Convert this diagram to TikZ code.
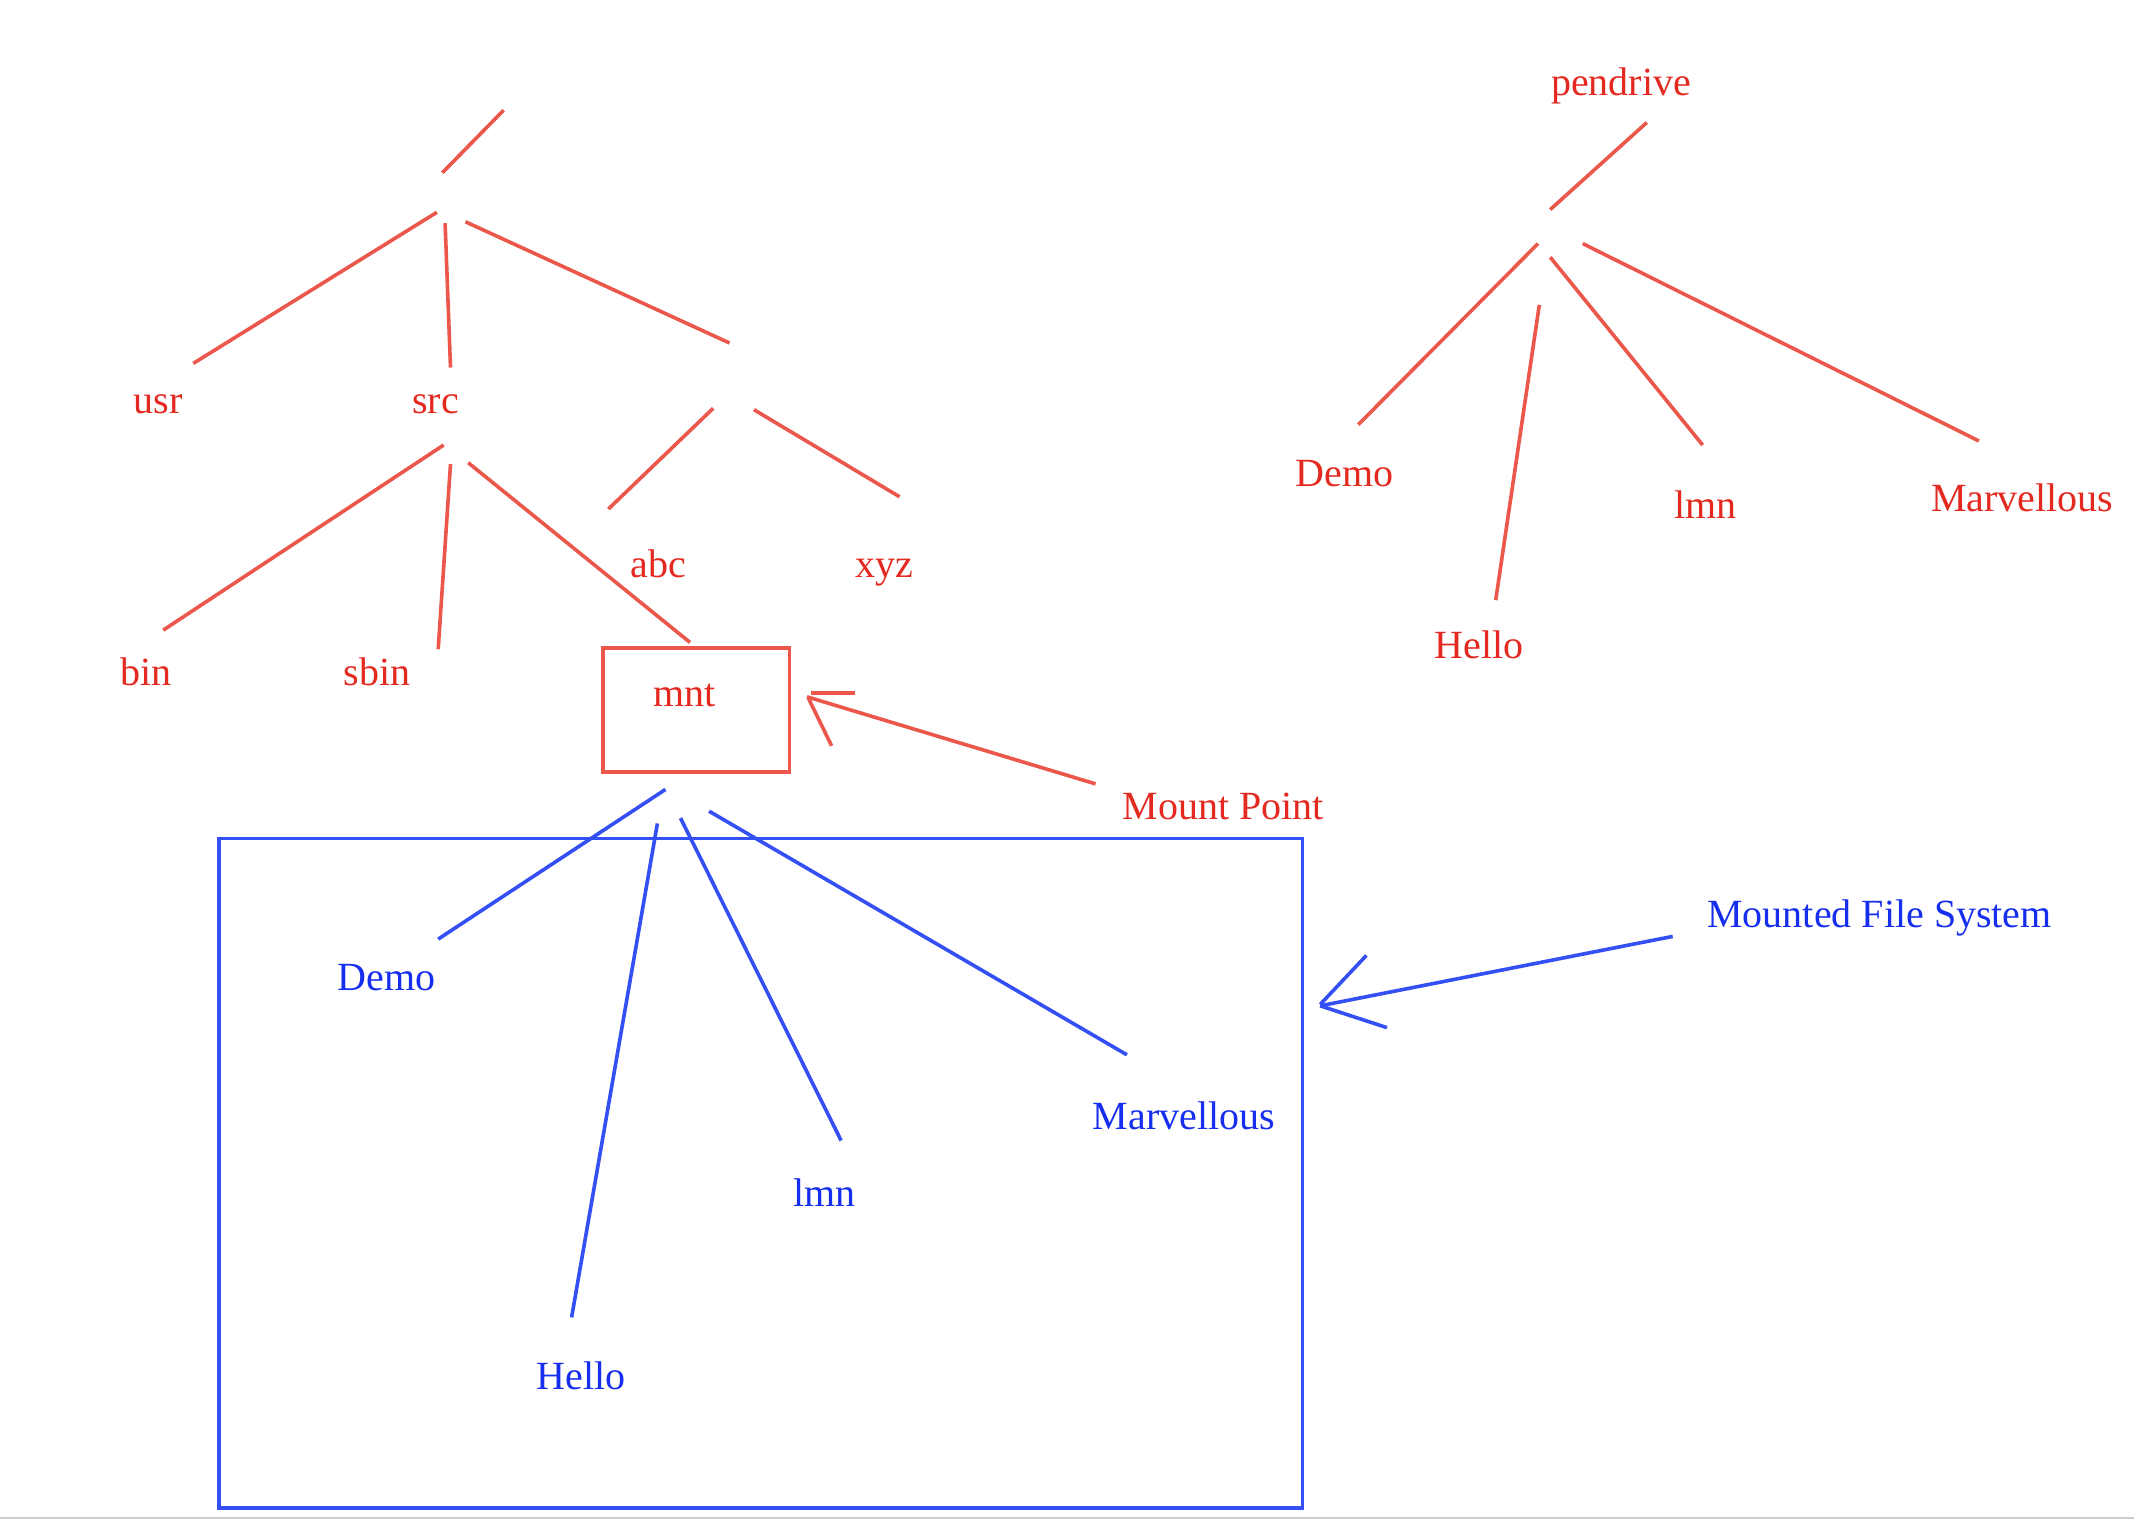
\documentclass[tikz,border=0pt]{standalone}
\usepackage{fontspec}
\setmainfont{Liberation Serif}
\definecolor{redline}{RGB}{235,87,74}
\definecolor{redtext}{RGB}{228,42,32}
\definecolor{blueline}{RGB}{52,80,245}
\definecolor{bluetext}{RGB}{22,46,238}
\tikzset{
  rl/.style={draw=redline,line width=3.6pt},
  bl/.style={draw=blueline,line width=3.6pt},
  rt/.style={text=redtext,font=\fontsize{40}{48}\selectfont,inner sep=0pt},
  bt/.style={text=bluetext,font=\fontsize{40}{48}\selectfont,inner sep=0pt},
}
\begin{document}
\begin{tikzpicture}[x=1pt,y=-1pt]
\useasboundingbox (0,0) rectangle (2134,1520);
\fill[white] (0,0) rectangle (2134,1520);
\draw[gray!40,line width=1.5pt] (0,1518) -- (2134,1518);

% ---- left tree
\draw[rl] (503.6,110.2) -- (442.3,172.8);
\draw[rl] (436.9,212.3) -- (193.3,363.4);
\draw[rl] (445.1,223.2) -- (450.5,367.5);
\draw[rl] (465.5,221.8) -- (729.5,343);
\node[rt] (usr) at (157.9,404.2) {usr};
\node[rt] (src) at (435.5,404.2) {src};
\draw[rl] (713.2,408.3) -- (608.4,509);
\draw[rl] (754,409.7) -- (899.6,496.8);
\node[rt] (abc) at (658.7,563.5) {abc};
\node[rt] (xyz) at (884.7,573) {xyz};
\draw[rl] (443.7,445) -- (163.3,630.1);
\draw[rl] (450.5,464.1) -- (438.2,649.2);
\draw[rl] (468.2,462.7) -- (690,642.4);
\node[rt] (bin) at (145.6,672.3) {bin};
\node[rt] (sbin) at (377,672.3) {sbin};
\draw[rl] (603,647.8) rectangle (789.4,771.7);
\node[rt] (mnt) at (684.6,695.5) {mnt};

% ---- mount point arrow
\node[rt] (mp) at (1223.5,806) {Mount Point};
\draw[rl] (1095.6,783.9) -- (807,696.8);
\draw[rl] (811,692.7) -- (854.7,692.7);
\draw[rl] (808.4,698.2) -- (831.6,745.8);

% ---- mounted file system
\draw[bl] (219.1,838.4) rectangle (1302.5,1508);
\draw[bl] (665.5,789.4) -- (438.2,939.1);
\draw[bl] (657.4,823.4) -- (571.6,1317.4);
\draw[bl] (680.5,818) -- (841.1,1140.5);
\draw[bl] (709.1,811.2) -- (1126.9,1054.8);
\node[bt] (demo) at (386.5,977.2) {Demo};
\node[bt] (hello) at (581.1,1376) {Hello};
\node[bt] (lmn) at (824.8,1192.2) {lmn};
\node[bt] (marv) at (1184,1116) {Marvellous};

\node[bt] (mfs) at (1879.6,918) {Mounted File System};
\draw[bl] (1672.7,936.4) -- (1320.2,1005.8);
\draw[bl] (1366.4,955.4) -- (1320.2,1004.4);
\draw[bl] (1320.2,1005.8) -- (1386.9,1027.6);

% ---- pendrive tree
\node[rt] (pd) at (1621,86) {pendrive};
\draw[rl] (1646.8,122.5) -- (1550.2,209.6);
\draw[rl] (1538,243.6) -- (1358.3,424.6);
\draw[rl] (1539.3,304.9) -- (1495.7,600.2);
\draw[rl] (1550.2,257.2) -- (1702.6,445);
\draw[rl] (1582.8,243.6) -- (1978.9,441);
\node[rt] (pdemo) at (1344.7,473.6) {Demo};
\node[rt] (phello) at (1479.4,645.1) {Hello};
\node[rt] (plmn) at (1705.3,504.9) {lmn};
\node[rt] (pmarv) at (2022.4,498.1) {Marvellous};
\end{tikzpicture}
\end{document}
